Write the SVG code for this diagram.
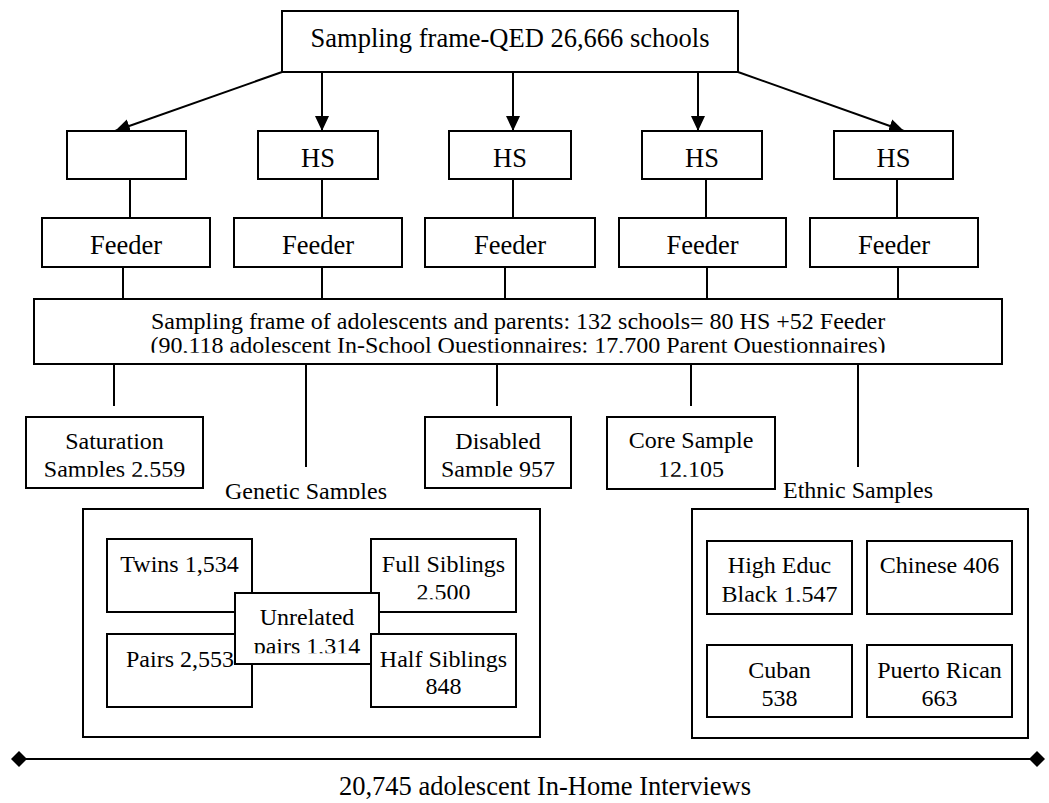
<svg xmlns="http://www.w3.org/2000/svg" width="1049" height="803" viewBox="0 0 1049 803" font-family="'Liberation Serif','Times New Roman',serif">
<style>
.b{fill:#fff;stroke:#000;stroke-width:2}
.t{font-family:"Liberation Serif","Times New Roman",serif;font-size:24px;fill:#000;text-anchor:middle}
.l{font-size:26.5px}
.c{stroke:#000;stroke-width:2;fill:none}
</style>
<defs>
<marker id="ah" markerUnits="userSpaceOnUse" markerWidth="15" markerHeight="14" refX="15" refY="7" orient="auto"><path d="M0,0 L15,7 L0,14 z" fill="#000"/></marker>
<marker id="dm" markerUnits="userSpaceOnUse" markerWidth="16" markerHeight="16" refX="8" refY="8" orient="auto"><path d="M0,8 L8,0 L16,8 L8,16 z" fill="#000"/></marker>
<clipPath id="c1"><rect x="0" y="0" width="1049" height="352.7"/></clipPath>
<clipPath id="c2"><rect x="0" y="0" width="1049" height="476.8"/></clipPath>
<clipPath id="c3"><rect x="0" y="0" width="1049" height="499"/></clipPath>
<clipPath id="c4"><rect x="0" y="0" width="1049" height="599.3"/></clipPath>
<clipPath id="c5"><rect x="0" y="0" width="1049" height="653.3"/></clipPath>
<clipPath id="c6"><rect x="0" y="0" width="1049" height="601.7"/></clipPath>
</defs>

<g id="connectors">
<line class="c" x1="282" y1="72" x2="115" y2="131" marker-end="url(#ah)"/>
<line class="c" x1="322" y1="72" x2="322" y2="131" marker-end="url(#ah)"/>
<line class="c" x1="513" y1="72" x2="513" y2="131" marker-end="url(#ah)"/>
<line class="c" x1="698" y1="72" x2="698" y2="131" marker-end="url(#ah)"/>
<line class="c" x1="738" y1="72" x2="904" y2="131" marker-end="url(#ah)"/>
<line class="c" x1="130" y1="179" x2="130" y2="218"/>
<line class="c" x1="322" y1="179" x2="322" y2="218"/>
<line class="c" x1="513" y1="179" x2="513" y2="218"/>
<line class="c" x1="706" y1="179" x2="706" y2="218"/>
<line class="c" x1="897" y1="179" x2="897" y2="218"/>
<line class="c" x1="123" y1="267" x2="123" y2="299"/>
<line class="c" x1="322" y1="267" x2="322" y2="299"/>
<line class="c" x1="505" y1="267" x2="505" y2="299"/>
<line class="c" x1="707" y1="267" x2="707" y2="299"/>
<line class="c" x1="898" y1="267" x2="898" y2="299"/>
<line class="c" x1="114" y1="364" x2="114" y2="406"/>
<line class="c" x1="306" y1="364" x2="306" y2="467"/>
<line class="c" x1="497" y1="364" x2="497" y2="406"/>
<line class="c" x1="691" y1="364" x2="691" y2="406"/>
<line class="c" x1="858" y1="364" x2="858" y2="467"/>
<line class="c" x1="19" y1="759" x2="1037" y2="759" stroke="#222" marker-start="url(#dm)" marker-end="url(#dm)"/>
</g>

<g id="top"><rect class="b" x="282" y="11" width="456" height="61"/><text class="t l" x="510" y="47">Sampling frame-QED 26,666 schools</text></g>

<g id="hs1"><rect class="b" x="67" y="131" width="119" height="48"/></g>
<g id="hs2"><rect class="b" x="258" y="131" width="120" height="48"/><text class="t l" x="318" y="167">HS</text></g>
<g id="hs3"><rect class="b" x="449" y="131" width="122" height="48"/><text class="t l" x="510" y="167">HS</text></g>
<g id="hs4"><rect class="b" x="642" y="131" width="120" height="48"/><text class="t l" x="702" y="167">HS</text></g>
<g id="hs5"><rect class="b" x="834" y="131" width="119" height="48"/><text class="t l" x="893.5" y="167">HS</text></g>

<g id="feeder1"><rect class="b" x="42" y="218" width="168" height="49"/><text class="t l" x="126" y="254">Feeder</text></g>
<g id="feeder2"><rect class="b" x="234" y="218" width="168" height="49"/><text class="t l" x="318" y="254">Feeder</text></g>
<g id="feeder3"><rect class="b" x="425" y="218" width="170" height="49"/><text class="t l" x="510" y="254">Feeder</text></g>
<g id="feeder4"><rect class="b" x="619" y="218" width="167" height="49"/><text class="t l" x="702.5" y="254">Feeder</text></g>
<g id="feeder5"><rect class="b" x="810" y="218" width="168" height="49"/><text class="t l" x="894" y="254">Feeder</text></g>

<g id="frame"><rect class="b" x="34" y="299" width="968" height="65"/>
<g clip-path="url(#c1)"><text class="t" x="518" y="329">Sampling frame of adolescents and parents: 132 schools= 80 HS +52 Feeder</text>
<text class="t" x="518" y="353">(90,118 adolescent In-School Questionnaires: 17,700 Parent Questionnaires)</text></g></g>

<g id="saturation"><rect class="b" x="26" y="417" width="177" height="71"/>
<g clip-path="url(#c2)"><text class="t" x="114.5" y="449">Saturation</text><text class="t" x="114.5" y="477">Samples 2,559</text></g></g>
<g id="disabled"><rect class="b" x="425" y="417" width="146" height="71"/>
<g clip-path="url(#c2)"><text class="t" x="498" y="449">Disabled</text><text class="t" x="498" y="477">Sample 957</text></g></g>
<g id="core"><rect class="b" x="607" y="417" width="168" height="72"/>
<g clip-path="url(#c2)"><text class="t" x="691" y="448">Core Sample</text><text class="t" x="691" y="476.5">12,105</text></g></g>

<g id="genetic"><g clip-path="url(#c3)"><text class="t" x="306" y="498.5">Genetic Samples</text></g>
<rect class="b" x="83" y="509" width="457" height="228"/></g>
<g id="twins"><rect class="b" x="107" y="539" width="145" height="73"/><text class="t" x="179.5" y="572">Twins 1,534</text></g>
<g id="full"><rect class="b" x="371" y="539" width="145" height="73"/>
<g clip-path="url(#c4)"><text class="t" x="443.5" y="572">Full Siblings</text><text class="t" x="443.5" y="599.5">2,500</text></g></g>
<g id="pairs"><rect class="b" x="107" y="634" width="145" height="73"/><text class="t" x="180" y="667">Pairs 2,553</text></g>
<g id="unrelated"><rect class="b" x="235" y="593" width="144" height="71"/>
<g clip-path="url(#c5)"><text class="t" x="307" y="625">Unrelated</text><text class="t" x="307" y="653.5">pairs 1,314</text></g></g>
<g id="half"><rect class="b" x="371" y="634" width="145" height="73"/><text class="t" x="443.5" y="667">Half Siblings</text><text class="t" x="443.5" y="694">848</text></g>

<g id="ethnic"><text class="t" x="858" y="498">Ethnic Samples</text>
<rect class="b" x="692" y="509" width="336" height="229"/></g>
<g id="higheduc"><rect class="b" x="707" y="541" width="145" height="73"/>
<g clip-path="url(#c6)"><text class="t" x="779.5" y="573">High Educ</text><text class="t" x="779.5" y="602">Black 1,547</text></g></g>
<g id="chinese"><rect class="b" x="867" y="541" width="145" height="73"/><text class="t" x="939.5" y="573">Chinese 406</text></g>
<g id="cuban"><rect class="b" x="707" y="645" width="145" height="72"/><text class="t" x="779.5" y="678">Cuban</text><text class="t" x="779.5" y="706">538</text></g>
<g id="puerto"><rect class="b" x="867" y="645" width="145" height="72"/><text class="t" x="939.5" y="678">Puerto Rican</text><text class="t" x="939.5" y="706">663</text></g>

<g id="interviews"><text class="t l" x="545" y="795">20,745 adolescent In-Home Interviews</text></g>
</svg>
